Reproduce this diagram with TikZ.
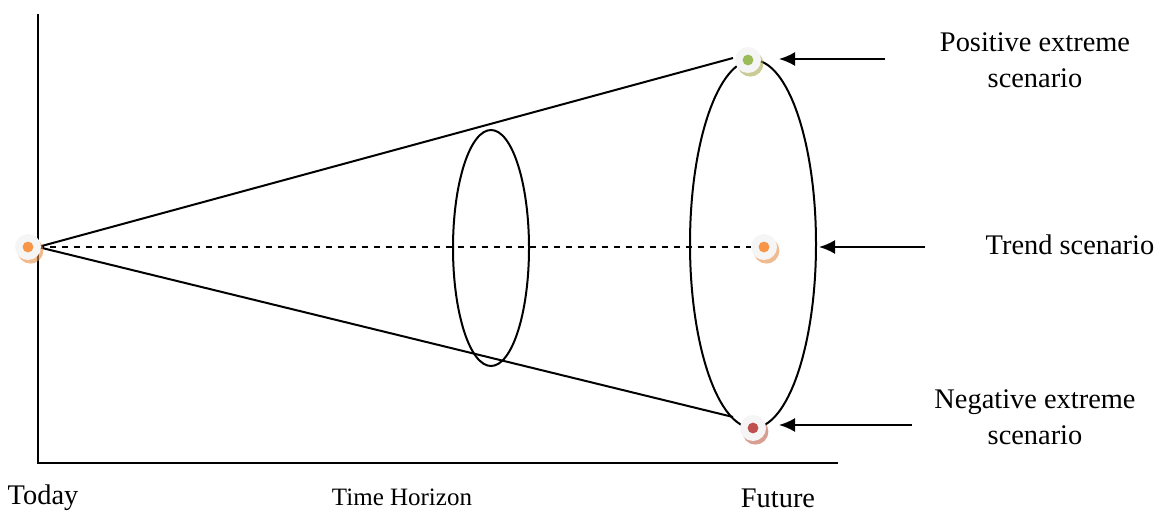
\documentclass[tikz,border=0pt]{standalone}
\usepackage{fontspec}
\setmainfont{Liberation Serif}
\usetikzlibrary{arrows.meta,shadows}
\definecolor{dotorange}{HTML}{F79646}
\definecolor{dotgreen}{HTML}{9BBB59}
\definecolor{dotred}{HTML}{C0504D}
\tikzset{
  scendot/.style={circle, fill=gray!8, minimum size=13pt, inner sep=0pt,
    drop shadow={shadow xshift=1.2pt, shadow yshift=-1.8pt, fill=#1!70!brown, opacity=.6},
    path picture={\fill[#1] (path picture bounding box.center) circle (2.7pt);}},
  label/.style={font=\fontsize{14.2}{18}\selectfont, align=center},
  pointer/.style={line width=1pt, -{Latex[length=8pt,width=7pt]}}
}
\begin{document}
\begin{tikzpicture}[x=0.5pt,y=-0.5pt, line width=1pt]
  \useasboundingbox (0,0) rectangle (1167,513);

  % axes
  \coordinate (origin) at (38,463);
  \draw (38,14) -- (origin) -- (838,463);

  % cone
  \coordinate (start) at (38,247);
  \coordinate (top) at (733,58);
  \coordinate (bottom) at (733,417);
  \draw (top) -- (start) -- (bottom);
  \draw[dashed] (start) -- (752,247);

  \draw (491,248) ellipse [x radius=38, y radius=118];
  \draw (753,244) ellipse [x radius=63, y radius=184];

  % scenarios
  \node[scendot=dotorange] (today) at (28,247) {};
  \node[scendot=dotgreen] (positive) at (748,60) {};
  \node[scendot=dotorange] (trend) at (764,247) {};
  \node[scendot=dotred] (negative) at (753,428) {};

  \node[label] (poslabel) at (1035,60) {Positive extreme\\scenario};
  \node[label] (trendlabel) at (1070,245) {Trend scenario};
  \node[label] (neglabel) at (1035,417) {Negative extreme\\scenario};

  \coordinate (posfrom) at (885,59);
  \coordinate (trendfrom) at (925,247);
  \coordinate (negfrom) at (912,425);
  \draw[pointer] (posfrom) -- (779,59);
  \draw[pointer] (trendfrom) -- (819,247);
  \draw[pointer] (negfrom) -- (779,425);

  \node[label] (today text) at (43,498) {Today};
  \node[label, font=\fontsize{12.5}{15}\selectfont] (horizon) at (402,497) {Time Horizon};
  \node[label] (future) at (778,498) {Future};
\end{tikzpicture}
\end{document}
